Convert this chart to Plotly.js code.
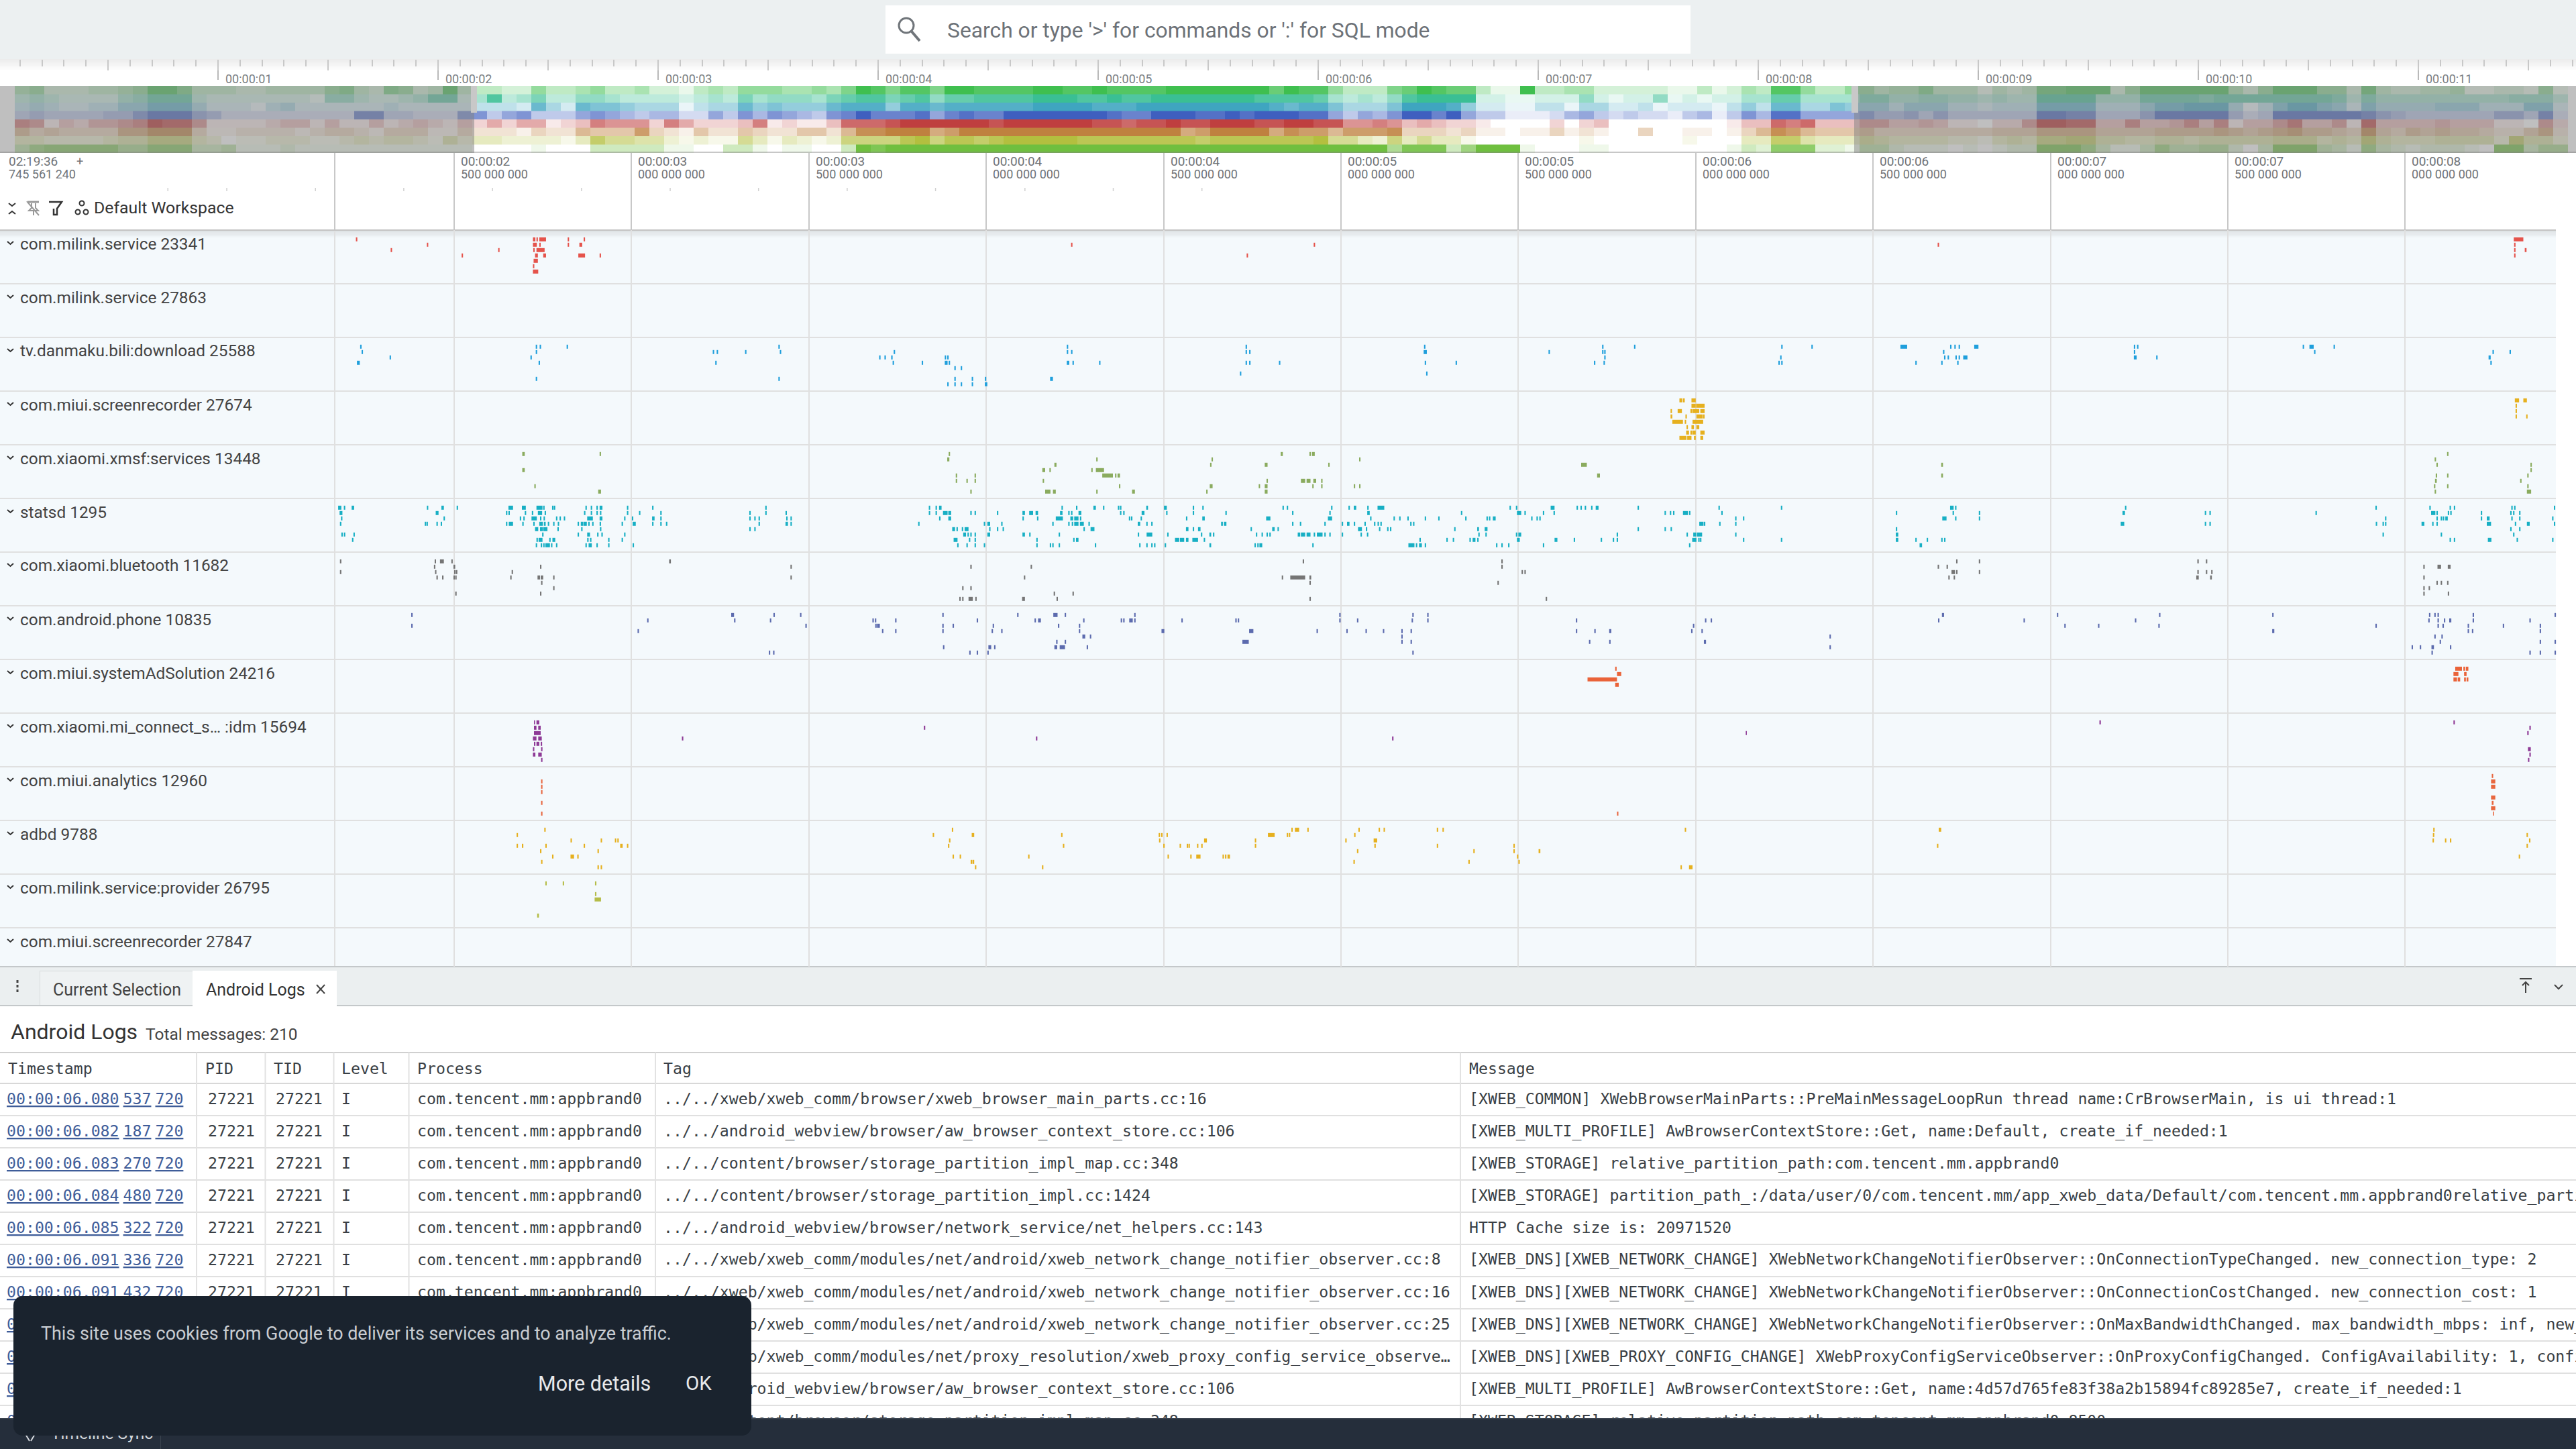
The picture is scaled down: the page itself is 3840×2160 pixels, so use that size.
<!DOCTYPE html>
<html><head><meta charset="utf-8">
<script src="https://cdn.plot.ly/plotly-3.0.1.min.js"></script>
<style>html,body{margin:0;padding:0;background:#fff;width:3840px;height:2160px;overflow:hidden}
#main{position:absolute;left:0;top:0;width:3840px;height:2160px}
#status{position:absolute;left:0;top:2114px;width:3840px;height:46px;z-index:2}
#cookie{position:absolute;left:20px;top:1932px;width:1100px;height:208px;z-index:3;border-radius:14px;overflow:hidden}
</style></head><body><div id="main"></div><div id="status"></div><div id="cookie"></div>
<script>
// ---------- overview band levels (0-9), one value per time column ----------
const bandGreen=[4,5,2,2,2,3,3,4,5,8,8,6,3,3,3,2,2,3,3,3,3,5,6,3,2,6,5,2,3,8,3,3,3,2,2,5,3,3,4,5,3,3,4,2,2,1,3,4,3,5,5,5,4,4,5,4,6,9,8,6,8,8,6,9,9,8,8,8,8,9,9,8,8,9,8,8,8,8,9,9,9,9,9,9,9,7,9,8,8,5,3,3,3,6,7,9,8,7,7,3,1,1,9,3,3,4,4,2,2,2,2,2,1,1,3,1,2,4,3,8,8,5,3,3,5,5,3,4,4,6,3,3,3,1,3,2,3,7,7,8,8,8,2,5,8,8,8,8,8,8,4,2,5,8,8,8,5,5,2,7,3,2,2,3,3,4,1,1,2,2,1,5,1];
const bandTeal=[3,4,3,2,2,2,2,4,5,7,7,7,3,2,2,2,2,2,2,2,1,5,5,3,2,2,3,4,7,7,2,4,8,3,4,6,3,3,5,5,4,3,3,3,3,2,3,4,3,6,4,5,5,5,4,6,7,8,8,6,7,8,5,7,7,8,8,8,8,9,9,9,8,8,9,8,8,9,9,9,9,9,9,9,8,8,8,8,7,4,3,4,3,5,8,9,9,9,9,2,2,1,1,2,2,2,5,2,1,2,2,5,1,2,1,2,2,4,4,7,7,4,4,4,4,6,6,4,4,5,5,4,4,3,4,3,3,8,8,8,8,4,4,4,7,7,7,7,6,7,7,7,7,7,7,7,7,6,3,6,4,4,4,4,4,4,4,4,4,5,5,5,3];
const bandBlue=[3,4,3,2,2,3,3,5,5,7,7,7,4,2,2,2,1,3,4,2,2,2,2,2,2,3,2,2,2,2,2,3,3,3,2,7,4,2,7,6,6,5,4,4,4,1,3,4,4,7,5,6,5,5,5,7,8,8,8,5,8,8,7,8,8,8,8,8,8,9,9,9,9,8,8,8,9,9,9,9,9,9,9,9,9,8,7,8,8,6,4,4,4,6,9,9,9,8,5,2,2,1,1,3,3,1,4,4,2,2,3,1,2,2,2,1,3,5,3,7,7,4,4,6,5,5,5,3,5,5,5,3,3,2,3,3,3,7,7,7,7,3,3,3,5,7,7,8,8,8,4,1,3,6,8,8,6,5,2,6,4,4,4,4,5,5,5,3,3,3,6,6,2];
const bandIndigo=[3,4,3,3,3,3,4,4,6,8,8,8,5,4,2,2,2,2,2,2,2,2,2,7,7,3,3,2,2,2,6,6,3,5,6,3,3,3,5,6,5,4,3,4,4,2,2,5,3,6,4,6,5,4,3,6,7,9,7,7,7,8,5,7,8,7,7,9,9,9,9,9,9,9,8,7,7,9,9,9,8,8,9,8,9,9,9,8,8,5,3,5,4,6,9,9,7,9,5,3,3,1,1,1,2,4,5,3,2,3,2,2,1,3,4,1,3,6,4,8,8,5,5,5,5,6,4,4,5,3,5,3,3,3,3,3,3,8,8,7,7,3,3,3,5,8,8,8,8,8,4,2,3,8,8,8,8,8,8,7,5,4,3,3,3,3,3,3,5,5,3,7,2];
const bandRed=[6,5,1,3,2,4,4,5,6,9,8,8,5,1,1,1,1,2,3,3,1,3,1,1,3,1,2,3,2,1,3,2,4,2,4,4,1,2,3,6,5,5,5,2,6,4,2,2,2,3,6,1,2,1,1,3,7,7,7,8,9,9,9,9,9,9,8,9,9,9,9,9,9,8,8,7,8,8,9,8,8,9,9,9,8,8,9,9,8,8,5,5,6,5,3,4,3,2,2,1,0,0,0,0,2,0,2,3,0,0,0,0,0,0,0,0,1,3,3,7,6,7,3,3,3,5,5,3,3,4,3,1,1,0,2,2,5,9,9,8,8,3,3,6,3,3,4,6,3,6,1,3,3,5,7,3,3,5,1,8,3,3,3,3,4,3,3,3,1,1,0,5,2];
const bandOrange=[5,3,4,3,3,3,3,6,6,8,8,8,3,1,1,2,2,2,2,1,2,3,3,2,1,3,3,3,1,1,3,2,2,2,1,3,2,2,5,4,4,4,7,3,2,1,4,2,2,4,3,2,2,4,4,2,5,8,8,9,9,9,6,7,9,9,9,9,9,9,9,9,9,9,9,9,9,9,9,6,7,9,9,9,9,6,8,7,7,5,7,7,7,8,3,3,3,2,3,1,1,0,1,1,3,1,2,1,0,0,3,0,0,1,1,0,1,3,5,8,7,5,4,4,4,5,3,3,3,3,3,3,3,3,4,4,4,6,6,6,6,4,4,4,4,5,5,5,5,6,5,4,5,6,7,5,5,4,3,8,4,3,5,4,5,4,4,3,2,2,4,6,2];
const bandOlive=[3,3,2,2,2,2,3,4,4,6,6,6,3,2,0,1,1,2,2,2,1,1,2,3,2,3,3,2,1,4,2,3,3,2,2,2,2,1,3,7,5,5,4,4,2,1,2,1,1,5,3,1,3,2,1,2,6,6,6,6,8,9,6,8,8,7,8,9,9,9,9,9,8,8,8,8,8,8,8,8,7,8,8,8,8,8,8,8,9,5,5,3,2,6,3,5,3,3,1,0,0,0,0,0,0,0,1,0,0,0,0,0,0,1,0,0,0,3,3,7,7,4,3,3,3,5,4,3,3,3,3,2,2,1,3,4,3,6,6,7,7,4,4,3,3,4,4,3,4,4,4,4,4,5,5,5,3,4,3,7,4,3,3,3,4,4,4,4,2,7,4,4,2];
const bandLime=[4,6,7,7,7,7,7,5,5,7,7,7,3,3,4,1,1,1,2,1,1,1,1,1,1,1,1,1,1,1,1,0,0,0,0,1,0,0,0,3,3,3,3,3,1,1,0,0,3,3,1,0,1,1,0,0,3,9,8,9,9,9,9,9,9,9,9,9,9,9,9,9,9,9,9,9,9,9,9,9,9,9,9,9,9,9,9,9,9,9,9,9,9,5,8,8,8,3,6,9,9,9,1,0,0,0,1,1,0,0,0,0,0,0,0,0,1,3,2,7,7,7,2,2,1,4,4,2,1,1,1,0,1,0,1,2,2,8,8,8,6,3,1,1,3,6,4,4,5,5,2,0,3,8,8,8,4,3,1,6,3,2,1,2,2,2,1,0,8,8,3,5,5];
const bands=[bandGreen,bandTeal,bandBlue,bandIndigo,bandRed,bandOrange,bandOlive,bandLime];
const bandColors=['#3fbf4f','#3abf94','#3fa5c0','#3f5fbf','#bf3f3f','#bf813f','#b3bf3f','#6fbf3f'];

// ---------- process events: per row, flat [start ms, duration ms, ...] ----------
const milink23341=[[2223,4,2722,7,2732,4,2740,19,2820,4,2865,4,8306,27],[2423,4,2722,11,2740,4,2820,4,2853,8,4239,4,4923,4,6682,4,8307,4],[2321,4,2624,4,2723,4,2732,23,8307,4,8337,5],[2521,4,2728,8,2751,8,2850,19,2910,4,4734,4,8307,4],[2724,12],[2722,4],[2722,15],[]];
const milink27863=[[],[],[],[],[],[],[],[]];
const danmaku25588=[[2235,4,2730,4,2741,4,2817,4,3414,4,4227,4,4731,4,5234,4,5736,4,5826,4,6241,4,6326,4,6577,19,6717,4,6729,4,6741,4,6785,12,7235,4,7244,4,7711,4,7730,12,7798,4],
[2239,4,2730,4,3229,4,3240,4,3320,4,3418,4,3739,4,4227,4,4239,4,4731,4,4741,4,5233,9,5585,4,5736,4,5742,4,6697,4,7235,4,7743,4,8246,4,8294,4],
[2318,4,2715,4,3698,4,3713,4,3732,4,3883,4,3890,4,5742,4,6238,4,6700,4,6710,4,6732,4,6741,4,6754,12,7235,8,7298,4,8235,6],
[2226,8,2738,4,3236,4,3736,4,3818,4,3883,8,3894,4,4227,7,4243,4,4318,4,4731,4,4741,4,4825,4,5236,4,5323,4,5713,4,5740,4,6233,4,6241,4,6619,4,6692,4,6737,4,8240,4],
[3910,4,3928,4],[4715,4,5240,4],[2730,4,3414,4,3910,4,3959,4,3996,4,4180,8],[3890,4,3910,4,3928,4,3959,4,3996,7]];
const screenrec27674=[[5954,8,5964,5,5988,12,8309,12,8333,10],[5988,12,6001,24,8311,4],[5929,4,5949,12,5985,4,5990,20,6013,12,8311,4],[5929,5,5971,4,6002,17,6020,5,8311,4,8341,4],[5934,30,5969,4,5991,30],[5974,4,5988,7,6002,8],[5973,8,5985,4,5990,10,6013,12],[5954,20,5976,12,5995,5,6013,8]];
const xmsf13448=[[2692,7,2910,4,3894,4,4830,6,4911,4,4918,8,8118,4],[3890,6,4310,4,4635,4,5051,4,8083,4],[4192,6,4631,4,4785,8,4964,4,5677,16,6692,5,8088,4,8353,4],[2692,7,4158,8,4178,4,4296,4,4309,23,8353,4],[3914,4,3967,4,4327,30,4363,4,4370,7,5722,8,6692,5,8086,4,8118,4,8344,4],[3914,4,3944,4,3967,4,4159,4,4790,4,4887,12,4903,11,4922,8,4944,4,8084,5,8324,4],[2726,4,4374,4,4630,8,4768,4,4785,8,4919,4,4944,4,5036,4,5051,4,8081,4,8118,4,8344,4],[2906,8,3955,4,4166,15,4188,8,4310,4,4411,8,4620,4,4785,8,8083,4,8343,12]];
const statsd1295=[[2173,9,2189,4,2211,7,2423,4,2464,7,2507,4,2653,13,2691,11,2732,17,2751,4,2776,4,2781,4,2870,4,2885,4,2901,4,2910,8,2987,4,3058,4,3377,4,3838,4,3857,4,3867,7,4212,4,4253,4,4302,7,4329,4,4371,4,4377,4,4451,5,4501,8,4582,4,4609,4,4835,4,4847,4,4972,4,5021,4,5036,7,5074,4,5103,19,5475,4,5493,4,5591,11,5664,4,5675,4,5687,4,5705,4,5718,8,5836,4,6064,4,6240,4,6717,10,6731,4,7210,4,7916,4,8068,4,8125,4,8137,4,8299,4,8307,4,8419,4],
[2177,8,2448,8,2646,4,2653,4,2699,4,2719,4,2736,12,2755,4,2866,4,2885,4,2901,4,2911,4,2987,4,3021,4,3081,4,3332,4,3377,4,3434,4,3838,4,3857,4,3878,13,3893,8,3955,4,3967,4,4030,4,4102,7,4121,11,4139,7,4208,7,4231,4,4239,4,4260,8,4377,4,4386,4,4438,8,4507,4,4582,4,4674,4,4862,4,4967,4,5074,7,5338,4,5496,12,5517,4,5569,4,5599,4,5912,4,5927,4,5936,4,5964,14,5981,4,6072,4,6564,4,6724,4,6798,4,7203,7,7435,4,7448,4,7747,4,8073,12,8088,4,8120,4,8127,4,8213,4,8296,4,8304,4,8321,4],
[2181,4,2470,4,2685,4,2695,4,2718,15,2742,4,2752,4,2787,4,2797,4,2809,4,2875,16,2910,8,2979,4,3001,4,3058,7,3081,4,3332,4,3346,4,3358,4,3436,4,3448,4,3867,4,3893,8,4102,4,4143,4,4196,20,4237,8,4248,12,4264,4,4402,4,4408,4,4435,4,4563,4,4609,7,4789,12,4963,12,5082,4,5148,4,5164,4,5187,4,5236,4,5274,4,5350,4,5410,4,5417,4,5428,8,5536,4,5551,4,5559,4,6111,4,6133,4,6695,12,6731,4,6798,4,7943,4,8088,4,8100,4,8106,4,8113,7,8213,4,8230,8,8299,4,8321,4,8414,4],
[2178,4,2417,4,2422,4,2450,4,2462,4,2646,4,2654,12,2692,4,2723,4,2740,10,2753,5,2764,4,2779,4,2792,4,2848,4,2857,7,2865,9,2878,4,2889,4,2910,4,2972,4,3003,9,3058,4,3081,4,3097,4,3358,4,3434,7,3448,4,3808,4,3993,4,4003,8,4042,4,4186,4,4231,4,4241,4,4248,12,4264,11,4288,4,4427,7,4451,4,4465,4,4662,5,4670,7,4862,4,4884,4,4953,4,5002,4,5017,7,5036,4,5066,4,5093,4,5103,4,5111,4,5195,4,5203,4,6010,12,6023,4,6066,4,6111,4,7198,10,7435,4,7448,4,7917,4,7936,4,7943,4,8046,8,8076,4,8088,4,8230,12,8309,4,8343,8,8419,4],
[2728,9,2742,8,2751,12,2791,4,2858,4,2911,4,3332,4,3346,4,3904,8,3916,4,3931,4,3939,11,4008,4,4030,4,4046,4,4274,4,4294,11,4563,7,4582,4,4597,7,4745,4,4806,7,4821,4,5048,11,5070,4,5107,4,5130,4,5138,4,5319,4,5384,5,5405,8,5836,4,5912,4,5929,4,6564,4,8296,4,8321,4],
[2182,4,2189,4,2216,4,2748,4,2848,4,2875,8,2903,4,2915,4,2979,4,3935,8,3947,4,3955,4,3967,4,4003,8,4102,7,4121,4,4204,4,4427,4,4452,16,4510,4,4605,4,4629,5,4639,4,4760,4,4776,4,4790,4,4798,4,4878,7,4887,12,4903,11,4923,4,4932,16,4953,4,4967,4,5002,4,5055,4,5073,4,5387,4,5407,4,5493,4,5500,8,5777,4,5974,4,5993,8,6003,15,6111,4,6564,7,7936,4,8100,4,8304,4],
[2212,4,2732,4,2738,11,2768,4,2777,8,2875,4,2883,4,2934,4,2972,4,3908,11,3951,4,3967,4,4141,4,4245,4,4253,7,4532,12,4546,12,4563,7,4581,16,4613,4,5221,4,5297,4,5315,4,5362,4,5371,8,5384,4,5496,8,5602,8,5656,4,5732,4,5766,4,5777,4,5990,12,6007,4,6012,4,6133,4,6240,4,6564,7,6619,4,6651,4,6692,4,6700,4,8125,4,8137,4,8233,10,8314,4,8414,4],
[2730,4,2744,4,2751,4,2757,13,2773,4,2787,4,2870,4,2879,9,2901,4,2934,4,3003,4,3918,4,3944,4,3967,4,3993,4,4141,4,4179,4,4186,4,4204,4,4306,4,4431,4,4451,4,4465,4,4473,4,4503,4,4629,5,4756,4,4764,4,4770,8,4919,4,5190,17,5211,4,5220,8,5236,4,5437,4,5452,4,5471,4,5569,4,5981,4,6631,7]];
const bluetooth11682=[[2178,4,2445,4,2460,11,2492,4,3106,5,4892,4,5452,4,6734,4,6798,4,7414,4,7438,4],[2443,4,2498,5,2742,4,3448,4,3955,4,4125,4,5452,4,6682,4,6707,4,8051,4,8091,10,8120,8],[2178,4,2446,4,2500,4,2505,4,2662,4,5509,4,5517,4,6721,10,6734,4,6798,4,7414,4,7438,4,7453,4],[2450,4,2466,4,2498,4,2503,4,2658,4,2735,7,2744,7,2779,4,3448,4,4106,4,4833,4,4857,42,4911,5,6712,4,6727,4,7411,7,7450,5,8051,4],[2745,4,4911,4,5441,4,8088,4,8100,4,8118,4],[2779,4,3932,4,3955,4,8051,4,8066,4],[2503,4,2742,4,4190,4,4243,4,8051,4,8120,4],[3924,4,3932,4,3950,12,3969,4,4101,8,4198,4,4911,4,5577,4]];
const phone10835=[[2379,4,3281,8,3400,4,3475,4,3876,4,4087,4,4189,12,4221,4,4417,4,4995,4,5201,4,5243,4,6694,6,7018,4,7306,4,7625,4,8067,4,8082,4,8091,4,8190,4,8421,4],
[3044,4,3289,4,3390,4,3679,4,3686,4,3743,4,3973,4,4136,4,4146,8,4273,4,4379,4,4386,4,4403,10,4417,4,4550,4,4702,4,4709,4,4995,4,5045,4,5199,4,5243,4,5662,4,6026,4,6042,4,6683,4,6924,4,7238,4,8065,4,8091,4,8109,4,8124,6,8190,4,8350,4],
[2379,4,3490,4,3687,4,3692,8,3876,4,3905,4,4018,4,4202,4,4261,4,5992,4,7039,4,7134,4,7304,4,7916,4,8091,4,8105,4,8176,4,8275,4,8379,4],
[3017,4,3706,4,3743,4,3876,4,4015,4,4042,4,4261,4,4494,8,4741,12,4931,4,5015,4,5069,4,5118,4,5170,4,5196,4,5662,4,5714,4,5756,6,5987,4,6016,4,7625,6,8176,4,8188,4,8379,4],
[4271,8,4292,4,5170,4,6377,4,8082,4,8102,4],[4197,4,4221,4,4722,18,5170,4,5196,4,5699,4,5756,4,6023,6,8097,4,8379,4,8421,4],[3878,4,4006,8,4022,4,4192,8,4207,15,4283,4,6377,4,8018,4,8041,4,8074,7,8126,4],[3387,4,3399,4,3952,4,3973,4,4003,4,5201,4,8074,4,8350,4,8379,4,8421,4]];
const adSolution24216=[[5773,4,8141,19,8164,5,8171,7],[5778,12,8136,14,8166,7],[5695,83,8136,10,8148,7,8166,5,8173,5],[5773,10],[],[],[],[]];
const miConnect15694=[[2725,3,2732,8,7138,4,8136,4],[2725,7,2737,7,3824,4,8350,4],[2725,19,6141,3,8344,4],[2722,10,2737,10,3142,4,4140,4,5144,4],[2725,4,2732,8,2744,4],[2722,4,2745,4,8346,8],[2722,7,2737,10,8350,4],[2745,4,8346,4]];
const analytics12960=[[8244,4],[2745,4,8242,12],[2745,4,8242,12],[2745,4],[8242,12],[2745,4,8244,5],[8242,12],[2745,4,5778,4,8247,3]];
const adbd9788=[[2754,4,3903,4,4860,4,4870,12,4905,4,5049,4,5106,4,5120,4,5270,4,5286,4,5969,4,6685,7,8079,4],
[2676,4,3849,4,3959,7,4211,4,4486,4,4493,4,4508,4,4794,19,4847,4,4853,4,5037,4,8078,4,8342,4],
[2828,4,2913,4,2953,4,2960,4,3895,4,4487,4,4614,8,4757,4,5012,4,5092,10,8077,4,8112,4,8126,4,8349,4],
[2676,4,2691,4,2757,4,2865,4,2968,7,2987,4,3892,4,4216,4,4499,4,4545,4,4565,4,4570,4,4594,4,4606,4,4757,4,5094,4,5270,4,5486,4,6680,4,8342,4],
[2742,4,2904,4,5045,4,5373,4,5486,4,5557,5],
[2776,4,2828,10,2847,4,3905,4,3925,4,4118,4,4511,4,4575,4,4592,12,4666,4,4673,4,4680,7,5496,4,8320,4],
[2745,4,3956,4,3961,5,5035,4,5359,4,5500,4],[2904,4,2913,4,3968,4,4157,4,5957,4,5981,10]];
const provider26795=[[2757,4,2806,4,2897,4],[],[2897,4],[2896,18],[],[],[2734,5],[]];
const screenrec27847=[[],[],[],[],[],[],[],[]];

const trackNames=['com.milink.service 23341','com.milink.service 27863','tv.danmaku.bili:download 25588','com.miui.screenrecorder 27674','com.xiaomi.xmsf:services 13448','statsd 1295','com.xiaomi.bluetooth 11682','com.android.phone 10835','com.miui.systemAdSolution 24216','com.xiaomi.mi_connect_s… :idm 15694','com.miui.analytics 12960','adbd 9788','com.milink.service:provider 26795','com.miui.screenrecorder 27847'];
const trackEvents=[milink23341,milink27863,danmaku25588,screenrec27674,xmsf13448,statsd1295,bluetooth11682,phone10835,adSolution24216,miConnect15694,analytics12960,adbd9788,provider26795,screenrec27847];
const trackColors=['#e5534b','#e5534b','#1f9fdc','#e6b01e','#8aab5e','#17afc4','#757575','#5c6bae','#ea6339','#8e3a96','#e8673f','#e6b01e','#b5bd48','#e6b01e'];

// ---------- axes labels ----------
const overviewTicks=[1,2,3,4,5,6,7,8,9,10,11];
const overviewLabels=['00:00:01','00:00:02','00:00:03','00:00:04','00:00:05','00:00:06','00:00:07','00:00:08','00:00:09','00:00:10','00:00:11'];
const timeTicks=[2.5,3,3.5,4,4.5,5,5.5,6,6.5,7,7.5,8];
const timeLabelA=['00:00:02','00:00:03','00:00:03','00:00:04','00:00:04','00:00:05','00:00:05','00:00:06','00:00:06','00:00:07','00:00:07','00:00:08'];
const timeLabelB=['500 000 000','000 000 000','500 000 000','000 000 000','500 000 000','000 000 000','500 000 000','000 000 000','500 000 000','000 000 000','500 000 000','000 000 000'];
const logMarks=[1.693,1.859,2.109,2.358,2.608,2.859,3.109,3.358,3.608,3.857,4.109,4.358,4.608];

// ---------- log table ----------
const logHeaders=['Timestamp','PID','TID','Level','Process','Tag','Message'];
const logTimes=['00:00:06.080 537 720','00:00:06.082 187 720','00:00:06.083 270 720','00:00:06.084 480 720','00:00:06.085 322 720','00:00:06.091 336 720','00:00:06.091 432 720','00:00:06.091 455 720','00:00:06.091 701 720','00:00:06.092 150 720','00:00:06.092 387 720'];
const logPid='27221',logTid='27221',logLevel='I',logProcess='com.tencent.mm:appbrand0';
const logTags=['../../xweb/xweb_comm/browser/xweb_browser_main_parts.cc:16','../../android_webview/browser/aw_browser_context_store.cc:106','../../content/browser/storage_partition_impl_map.cc:348','../../content/browser/storage_partition_impl.cc:1424','../../android_webview/browser/network_service/net_helpers.cc:143','../../xweb/xweb_comm/modules/net/android/xweb_network_change_notifier_observer.cc:8','../../xweb/xweb_comm/modules/net/android/xweb_network_change_notifier_observer.cc:16','../../xweb/xweb_comm/modules/net/android/xweb_network_change_notifier_observer.cc:25','../../xweb/xweb_comm/modules/net/proxy_resolution/xweb_proxy_config_service_observe…','../../android_webview/browser/aw_browser_context_store.cc:106','../../content/browser/storage_partition_impl_map.cc:348'];
const logMessages=['[XWEB_COMMON] XWebBrowserMainParts::PreMainMessageLoopRun thread name:CrBrowserMain, is ui thread:1','[XWEB_MULTI_PROFILE] AwBrowserContextStore::Get, name:Default, create_if_needed:1','[XWEB_STORAGE] relative_partition_path:com.tencent.mm.appbrand0','[XWEB_STORAGE] partition_path_:/data/user/0/com.tencent.mm/app_xweb_data/Default/com.tencent.mm.appbrand0relative_partition_path:com.tencent.mm.appbrand0','HTTP Cache size is: 20971520','[XWEB_DNS][XWEB_NETWORK_CHANGE] XWebNetworkChangeNotifierObserver::OnConnectionTypeChanged. new_connection_type: 2','[XWEB_DNS][XWEB_NETWORK_CHANGE] XWebNetworkChangeNotifierObserver::OnConnectionCostChanged. new_connection_cost: 1','[XWEB_DNS][XWEB_NETWORK_CHANGE] XWebNetworkChangeNotifierObserver::OnMaxBandwidthChanged. max_bandwidth_mbps: inf, new_connection_type: 2','[XWEB_DNS][XWEB_PROXY_CONFIG_CHANGE] XWebProxyConfigServiceObserver::OnProxyConfigChanged. ConfigAvailability: 1, config: none','[XWEB_MULTI_PROFILE] AwBrowserContextStore::Get, name:4d57d765fe83f38a2b15894fc89285e7, create_if_needed:1','[XWEB_STORAGE] relative_partition_path:com.tencent.mm.appbrand0_8500'];

// ---------- page geometry ----------
const W=3840,H=2160,RF="Roboto",MONO="'DejaVu Sans Mono'";
const trackTop=342.9,trackH=80,trackBottom=1441,slotPx=8;
const pxPerSec=528.8,t0=2.5,px0=677;
const rect=(x0,y0,x1,y1,c,layer)=>({type:'rect',xref:'paper',yref:'paper',x0:x0/W,x1:x1/W,y0:1-y0/H,y1:1-y1/H,fillcolor:c,line:{width:0},layer:layer||'below'});
const pth=(pts,c,w,fill)=>({type:'path',xref:'paper',yref:'paper',path:pts.map((p,i)=>(i?'L':'M')+(p[0]/W)+','+(1-p[1]/H)).join(' ')+(fill?' Z':''),line:{color:c,width:w||2},fillcolor:fill?c:'rgba(0,0,0,0)',layer:'above'});
const circ=(x,y,r,c,w)=>({type:'circle',xref:'paper',yref:'paper',x0:(x-r)/W,x1:(x+r)/W,y0:1-(y-r)/H,y1:1-(y+r)/H,line:{color:c,width:w||2},layer:'above'});
const T=(text,x,y,size,color,o)=>Object.assign({text,x:x/W,y:1-y/H,xref:'paper',yref:'paper',xanchor:'left',yanchor:'middle',showarrow:false,borderpad:0,font:{family:RF,size,color}},o||{});

const shapes=[],ann=[],traces=[];
// panels
shapes.push(rect(0,0,W,88,'#ecf0f1'));
for(let i=0;i<8;i++)shapes.push(rect(0,88+i*2,W,90+i*2,'rgba(120,120,120,'+(0.14-0.017*i)+')'));
shapes.push(rect(1320,8,2520,80,'#ffffff'));
shapes.push(rect(0,344,3810,trackBottom,'#f4f9fc'));
shapes.push(rect(0,342,3810,344,'#c4c4c4'));
for(let i=0;i<5;i++)shapes.push(rect(0,344+i*2,3810,346+i*2,'rgba(120,120,120,'+(0.16-0.03*i)+')'));
for(let k=1;k<trackNames.length;k++)shapes.push(rect(0,trackTop+k*trackH-1,3810,trackTop+k*trackH+1,'#e0e0e0'));
shapes.push(rect(498,228,500,342,'#c8c8c8'),rect(498,344,500,trackBottom,'#e0e0e0'));
// tab bar
shapes.push(rect(0,1441,W,1499,'#ebeff0'),rect(0,1440,W,1442,'#c4c8ca'),rect(0,1498,W,1500,'#c4c8ca'));
shapes.push(rect(59,1447,287,1498,'#eff2f3'),rect(59,1447,60,1498,'#d8dcdd'),rect(59,1447,287,1448,'#d8dcdd'));
shapes.push(rect(287,1447,502,1500,'#ffffff'));
// log table
const colX=[293,395.5,497.5,609.5,977,2177];
shapes.push(rect(0,1568,W,1570,'#d0d0d0'),rect(0,1614,W,1616,'#d8d8d8'));
for(let r=1;r<=10;r++)shapes.push(rect(0,1615+48*r-1,W,1615+48*r+1,'#e0e0e0'));
colX.forEach(x=>shapes.push(rect(x-1,1569,x+1,2114,'#e2e2e2')));
// overview shade and handles
shapes.push(rect(0,128,707,228,'rgba(127,127,127,0.5)','above'),rect(2764,128,W,228,'rgba(127,127,127,0.5)','above'));
shapes.push(rect(702,128,711,168,'#c8c8c8','above'),rect(2760,128,2770,168,'#c8c8c8','above'));
shapes.push(rect(0,226,W,228,'rgba(130,130,130,0.45)','above'));
// log marks on the ruler
logMarks.forEach(t=>shapes.push({type:'line',xref:'x',yref:'paper',x0:t,x1:t,y0:1-280/H,y1:1-285/H,line:{color:'#d0d0d0',width:1.5},layer:'above'}));
// icons
shapes.push(circ(1351,38,11,'#70757a',3),pth([[1359,47],[1371,61]],'#70757a',4));
shapes.push(pth([[13,303],[18,307],[23,303]],'#333',2),pth([[13,319],[18,315],[23,319]],'#333',2));
shapes.push(pth([[42,301],[58,301]],'#999',3),pth([[47,303],[47,310],[43,314],[57,314],[53,310],[53,303]],'#999',2),pth([[50,314],[50,321]],'#999',2),pth([[40,300],[58,321]],'#999',2));
shapes.push(pth([[73,301],[92,301],[85,311],[85,320],[80,320],[80,311]],'#333',2.5));
shapes.push(circ(122,303,3.5,'#333',2),circ(116,316,3.5,'#333',2),circ(128,316,3.5,'#333',2));
trackNames.forEach((n,k)=>{const y=363+k*trackH;shapes.push(pth([[11,y-3],[15.5,y+1],[20,y-3]],'#333',2));});
[[26,1463],[26,1470],[26,1477]].forEach(p=>shapes.push(rect(p[0]-1.5,p[1]-2,p[0]+1.5,p[1]+2,'#444','above')));
shapes.push(pth([[472,1468],[484,1481]],'#444',2),pth([[484,1468],[472,1481]],'#444',2));
shapes.push(pth([[3756,1459],[3774,1459]],'#444',2),pth([[3765,1480],[3765,1464]],'#444',2),pth([[3760,1469],[3765,1464],[3770,1469]],'#444',2));
shapes.push(pth([[3808,1468],[3814,1474],[3820,1468]],'#444',2));

// overview bands
const colStart=(22+11+3)/328,colStep=22/328;
bands.forEach((z,b)=>traces.push({type:'heatmap',xaxis:'x2',yaxis:'y2',x:z.map((_,i)=>colStart+i*colStep),y:[b+0.5],z:[z],zmin:0,zmax:9,zsmooth:false,showscale:false,hoverinfo:'skip',colorscale:[[0,'#ffffff'],[1,bandColors[b]]]}));
traces.push({type:'scatter',x:[],y:[],xaxis:'x3',yaxis:'y2',hoverinfo:'skip'});

// process events
trackEvents.forEach((rows,k)=>{
  const x=[],base=[],y=[];
  rows.forEach((row,r)=>{for(let i=0;i<row.length;i+=2){base.push(row[i]/1000);x.push(row[i+1]/1000);y.push(k*10+r+1.7375);}});
  traces.push({type:'bar',orientation:'h',name:trackNames[k],x,base,y,width:0.75,xaxis:'x',yaxis:'y',marker:{color:trackColors[k],line:{width:0}},hoverinfo:'skip'});
});

// text
overviewTicks.forEach((t,i)=>ann.push({text:overviewLabels[i],x:t,xref:'x2',xanchor:'left',xshift:10,y:1-117/H,yref:'paper',yanchor:'middle',showarrow:false,borderpad:0,font:{family:RF,size:18,color:'#7a7f84'}}));
timeTicks.forEach((t,i)=>{ann.push({text:timeLabelA[i],x:t,xref:'x',xanchor:'left',xshift:9,y:1-240/H,yref:'paper',yanchor:'middle',showarrow:false,borderpad:0,font:{family:RF,size:19,color:'#6f7377'}});
 ann.push({text:timeLabelB[i],x:t,xref:'x',xanchor:'left',xshift:9,y:1-260/H,yref:'paper',yanchor:'middle',showarrow:false,borderpad:0,font:{family:RF,size:18,color:'#6f7377'}});});
ann.push(T('02:19:36',12,240,19,'#6f7377'),T('+',113,240,18,'#6f7377'),T('745 561 240',12,260,18,'#6f7377'));
ann.push(T('Default Workspace',139,310,24.8,'#333'));
ann.push(T("Search or type '>' for commands or ':' for SQL mode",1411,45,31.8,'#6d7278'));
trackNames.forEach((n,k)=>ann.push(T(n,29,363+k*trackH,24.4,'#444')));
ann.push(T('Current Selection',78,1475,25,'#444'),T('Android Logs',306,1475,25,'#333'));
ann.push(T('Android Logs',15,1538,32,'#333'),T('Total messages: 210',216,1541,24.5,'#444'));
const headX=[11,305,407,508,621,988,2189];
logHeaders.forEach((h,i)=>ann.push(T(h,headX[i],1592,23.2,'#3a3f45',{font:{family:MONO,size:23.2,color:'#3a3f45'}})));
const mono={family:MONO,size:23.2,color:'#3a3f45'};
const linkStyle=s=>'<span style="text-decoration:underline">'+s+'</span>';
logTimes.forEach((ts,r)=>{
  const y=1637.5+48*r, parts=ts.split(' ');
  const gap='<span style="font-size:10px">\u00a0</span>';
  ann.push(T(parts.map(linkStyle).join(gap),9,y,23.2,'#3f5d99',{font:{family:MONO,size:23.2,color:'#3f5d99'}}));
  ann.push(T(logPid,381,y,23.2,'#333',{font:mono,xanchor:'right'}),T(logTid,482,y,23.2,'#333',{font:mono,xanchor:'right'}),T(logLevel,508,y,23.2,'#333',{font:mono}),T(logProcess,621,y,23.2,'#333',{font:mono}),T(logTags[r],988,y,23.2,'#333',{font:mono}),T(logMessages[r],2189,y,23.2,'#333',{font:mono}));
});

const lim=[t0-px0/pxPerSec,t0+(W-px0)/pxPerSec], ovr=[3/328,(W+3)/328];
const layout={width:W,height:H,margin:{l:0,r:0,t:0,b:0,pad:0},paper_bgcolor:'#ffffff',plot_bgcolor:'rgba(0,0,0,0)',showlegend:false,barmode:'overlay',shapes,annotations:ann,
 xaxis:{domain:[0,1],range:lim,anchor:'y',side:'top',tickmode:'array',tickvals:timeTicks,ticktext:timeLabelA,showticklabels:false,ticks:'outside',ticklen:115,tickwidth:2,tickcolor:'#c8c8c8',showgrid:true,gridcolor:'#e0e0e0',gridwidth:2,zeroline:false,showline:false,fixedrange:true},
 yaxis:{domain:[1-trackBottom/H,1-trackTop/H],range:[(trackBottom-trackTop)/slotPx,0],visible:false,fixedrange:true},
 xaxis2:{domain:[0,1],range:ovr,anchor:'free',position:1-88/H,side:'top',ticks:'inside',ticklen:30,tickwidth:2,tickcolor:'#b9b9b9',tick0:0,dtick:1,showticklabels:false,showgrid:false,zeroline:false,showline:false,fixedrange:true,minor:{ticks:'inside',dtick:0.1,ticklen:10,tickwidth:2,tickcolor:'#c8c8c8',showgrid:false}},
 xaxis3:{domain:[0,1],range:ovr,overlaying:'x2',anchor:'free',position:1-88/H,side:'top',ticks:'inside',ticklen:16,tickwidth:2,tickcolor:'#c8c8c8',tick0:0,dtick:0.5,showticklabels:false,showgrid:false,zeroline:false,showline:false,fixedrange:true},
 yaxis2:{domain:[1-228/H,1-128/H],range:[8,0],visible:false,fixedrange:true}};
Plotly.newPlot('main',traces,layout,{staticPlot:true,displayModeBar:false});

// status bar overlay
const blank={visible:false,fixedrange:true};
const st=(x,y)=>[x/W,1-y/46];
Plotly.newPlot('status',[],{width:W,height:46,margin:{l:0,r:0,t:0,b:0},paper_bgcolor:'#252e3b',plot_bgcolor:'#252e3b',xaxis:blank,yaxis:blank,
 shapes:[{type:'rect',xref:'paper',yref:'paper',x0:0,x1:1,y0:0.97,y1:1,fillcolor:'#3a434f',line:{width:0}},{type:'rect',xref:'paper',yref:'paper',x0:239/W,x1:240/W,y0:0,y1:1,fillcolor:'#3a434f',line:{width:0}},
 {type:'path',xref:'paper',yref:'paper',path:`M${st(38,24)} L${st(44,34)} M${st(52,24)} L${st(46,34)}`,line:{color:'#d5d9de',width:2}}],
 annotations:[{text:'Timeline Sync',x:74/W,y:1-22/46,xref:'paper',yref:'paper',xanchor:'left',yanchor:'middle',showarrow:false,font:{family:RF,size:24.5,color:'#d5d9de'}}]},{staticPlot:true,displayModeBar:false});

// cookie notice overlay
const CW=1100,CH=208;
const CT=(text,x,y,size,color)=>({text,x:x/CW,y:1-y/CH,xref:'paper',yref:'paper',xanchor:'left',yanchor:'middle',showarrow:false,borderpad:0,font:{family:RF,size,color}});
Plotly.newPlot('cookie',[],{width:CW,height:CH,margin:{l:0,r:0,t:0,b:0},paper_bgcolor:'#1a232e',plot_bgcolor:'#1a232e',xaxis:blank,yaxis:blank,
 annotations:[CT('This site uses cookies from Google to deliver its services and to analyze traffic.',40,56,26.9,'#c9cdd2'),CT('More details',781,130,30.5,'#e8eaec'),CT('OK',1001,130,29.5,'#e8eaec')]},{staticPlot:true,displayModeBar:false});
</script></body></html>
